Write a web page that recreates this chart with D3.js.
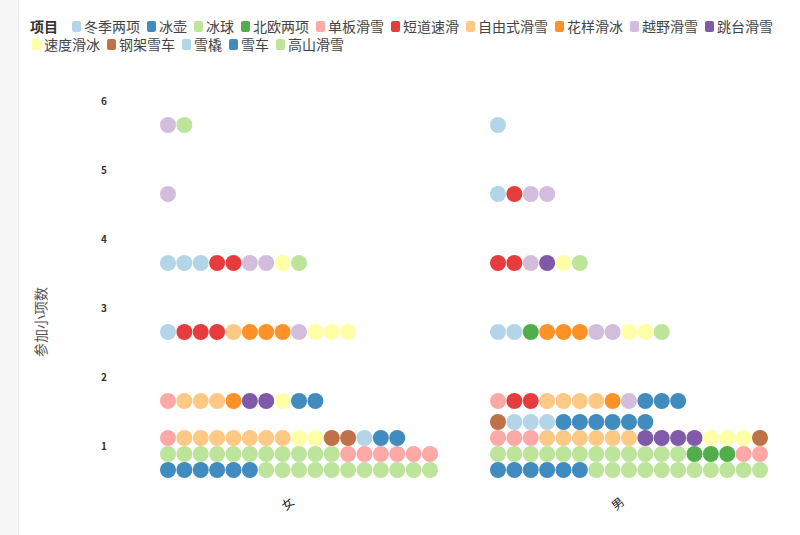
<!DOCTYPE html>
<html>
<head>
<meta charset="utf-8">
<script src="https://cdn.jsdelivr.net/npm/d3@7"></script>
<style>
  html, body { margin: 0; padding: 0; background: #fff; }
  svg { display: block; font-family: "Noto Sans CJK SC", "Noto Sans", sans-serif; }
</style>
</head>
<body>
<svg id="chart" width="800" height="535"></svg>
<script>
// ---- data ----
const sports = ["冬季两项", "冰壶", "冰球", "北欧两项", "单板滑雪", "短道速滑", "自由式滑雪",
  "花样滑冰", "越野滑雪", "跳台滑雪", "速度滑冰", "钢架雪车", "雪橇", "雪车", "高山滑雪"];
const genders = ["女", "男"];
const eventCounts = [1, 2, 3, 4, 5, 6];
// athletes per sport (in sports order) for each number of events 1..6
const femaleCounts = [
  [0, 6, 22, 0, 7, 0, 7, 0, 0, 0, 2, 2, 1, 2, 0],
  [0, 0, 0, 0, 1, 0, 3, 1, 0, 2, 1, 0, 0, 2, 0],
  [1, 0, 0, 0, 0, 3, 1, 3, 1, 0, 3, 0, 0, 0, 0],
  [3, 0, 0, 0, 0, 2, 0, 0, 2, 0, 1, 0, 0, 0, 1],
  [0, 0, 0, 0, 0, 0, 0, 0, 1, 0, 0, 0, 0, 0, 0],
  [0, 0, 0, 0, 0, 0, 0, 0, 1, 0, 0, 0, 0, 0, 1]
];
const maleCounts = [
  [0, 6, 23, 3, 5, 0, 6, 0, 0, 4, 3, 2, 3, 6, 0],
  [0, 0, 0, 0, 1, 2, 4, 1, 1, 0, 0, 0, 0, 3, 0],
  [2, 0, 0, 1, 0, 0, 0, 3, 2, 0, 2, 0, 0, 0, 1],
  [0, 0, 0, 0, 0, 2, 0, 0, 1, 1, 1, 0, 0, 0, 1],
  [1, 0, 0, 0, 0, 1, 0, 0, 2, 0, 0, 0, 0, 0, 0],
  [1, 0, 0, 0, 0, 0, 0, 0, 0, 0, 0, 0, 0, 0, 0]
];
const legendTitle = "项目";
const yTitle = "参加小项数";

// ---- layout ----
const svg = d3.select("#chart");
const perRow = 17;
const color = d3.scaleOrdinal().domain(sports).range(sports.map((s, i) => d3.schemePaired[i % 12]));
const x = d3.scaleBand().domain(genders).range([160, 820]).padding(0);
const col = d3.scaleLinear().domain([0, perRow - 1]).range([8, 270]);
const y = d3.scaleLinear().domain([1, 6]).range([470, 125]);
const stackStep = 16;
const r = 8;

// left strip
svg.append("rect").attr("x", 0).attr("y", 0).attr("width", 18).attr("height", 535).attr("fill", "#f7f7f7");
svg.append("line").attr("x1", 18.5).attr("x2", 18.5).attr("y1", 0).attr("y2", 535).attr("stroke", "#ececec");

// build dots
const dots = [];
genders.forEach((g, gi) => {
  const table = gi === 0 ? femaleCounts : maleCounts;
  eventCounts.forEach((v, vi) => {
    let idx = 0;
    sports.forEach((s, si) => {
      for (let k = 0; k < table[vi][si]; k++) {
        dots.push({ gender: g, count: v, sport: s, idx: idx });
        idx++;
      }
    });
  });
});

svg.append("g").selectAll("circle").data(dots).join("circle")
  .attr("cx", d => x(d.gender) + col(d.idx % perRow))
  .attr("cy", d => y(d.count) - Math.floor(d.idx / perRow) * stackStep)
  .attr("r", r)
  .attr("fill", d => color(d.sport))
  .attr("fill-opacity", 0.85);

// y tick labels
svg.append("g").selectAll("text").data(eventCounts).join("text")
  .attr("x", 104).attr("y", d => y(d) - 25)
  .attr("text-anchor", "middle").attr("dominant-baseline", "central")
  .attr("font-size", 10).attr("font-weight", "bold").attr("fill", "#333")
  .text(d => d);

// y title
svg.append("text")
  .attr("transform", "translate(40,322) rotate(-90)")
  .attr("text-anchor", "middle").attr("dominant-baseline", "central")
  .attr("font-size", 14).attr("fill", "#555")
  .text(yTitle);

// x labels
svg.append("g").selectAll("text").data(genders).join("text")
  .attr("transform", d => `translate(${x(d) + 127},503) rotate(-40)`)
  .attr("text-anchor", "middle").attr("dominant-baseline", "central")
  .attr("font-size", 12).attr("fill", "#222")
  .text(d => d);

// legend
const lg = svg.append("g");
lg.append("text").attr("x", 30).attr("y", 26).attr("dominant-baseline", "central")
  .attr("font-size", 14).attr("font-weight", "bold").attr("fill", "#333").text(legendTitle);
let lx = 72, ly = 26;
sports.forEach(s => {
  const item = lg.append("g");
  const t = item.append("text").attr("dominant-baseline", "central")
    .attr("font-size", 14).attr("fill", "#444").text(s);
  const w = t.node().getComputedTextLength();
  if (lx + 12 + w > 785) { lx = 32; ly += 18; }
  item.insert("rect", "text").attr("x", lx).attr("y", ly - 5).attr("width", 9).attr("height", 11)
    .attr("rx", 2).attr("fill", color(s)).attr("fill-opacity", 0.85);
  t.attr("x", lx + 12).attr("y", ly);
  lx += 12 + w + 7;
});
</script>
</body>
</html>
